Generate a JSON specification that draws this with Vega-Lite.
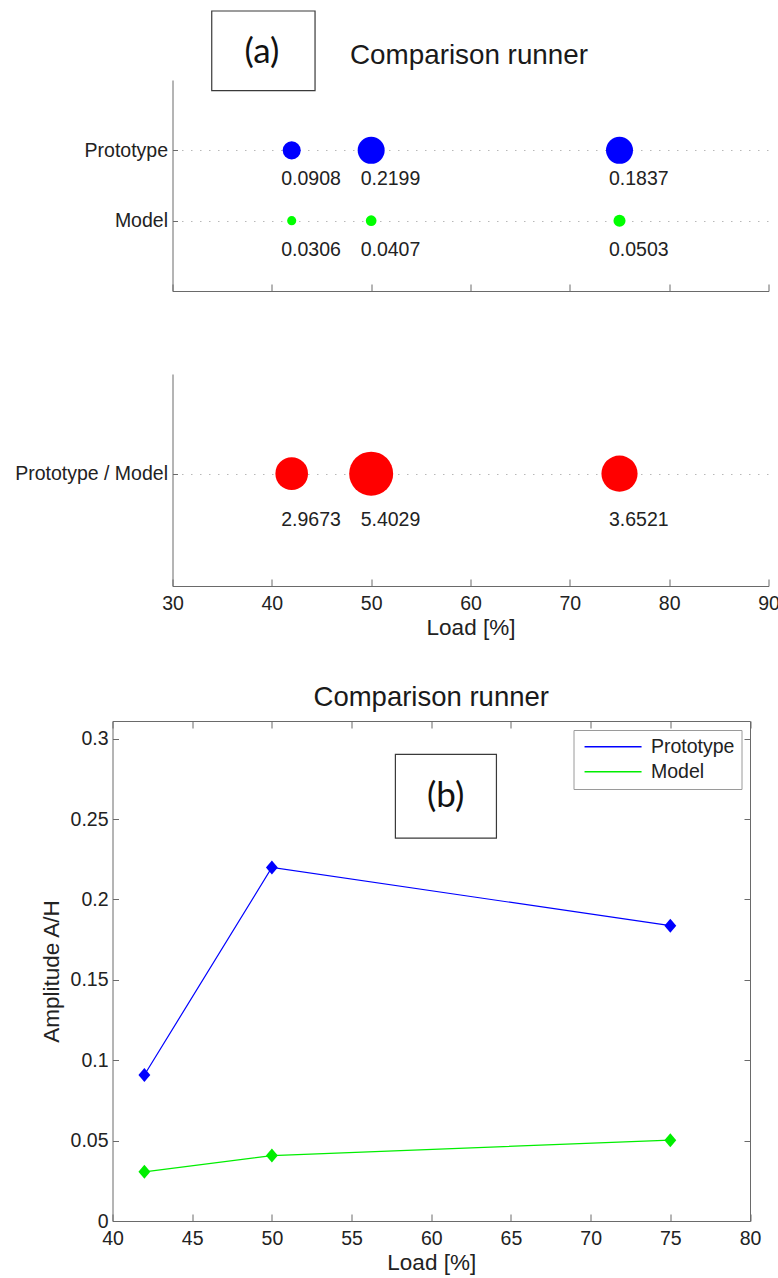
{
  "$schema": "https://vega.github.io/schema/vega-lite/v6.json",
  "background": "white",
  "padding": {"left": 13.5, "top": 10, "right": 0, "bottom": 0},
  "datasets": {
    "amp": [
      {"load": 42, "series": "Prototype", "value": 0.0908},
      {"load": 50, "series": "Prototype", "value": 0.2199},
      {"load": 75, "series": "Prototype", "value": 0.1837},
      {"load": 42, "series": "Model", "value": 0.0306},
      {"load": 50, "series": "Model", "value": 0.0407},
      {"load": 75, "series": "Model", "value": 0.0503}
    ],
    "ratio": [
      {"load": 42, "series": "Prototype / Model", "value": 2.9673},
      {"load": 50, "series": "Prototype / Model", "value": 5.4029},
      {"load": 75, "series": "Prototype / Model", "value": 3.6521}
    ]
  },
  "config": {
    "font": "Liberation Sans",
    "view": {"stroke": null},
    "axis": {
      "domainColor": "#6a6a6a", "tickColor": "#6a6a6a",
      "labelColor": "#222222", "titleColor": "#222222",
      "labelFont": "Liberation Sans", "titleFont": "Liberation Sans",
      "labelFontSize": 19.5, "titleFontSize": 22.5, "titleFontWeight": "normal",
      "grid": false, "labelFlush": false, "domainWidth": 1, "tickWidth": 1
    }
  },
  "resolve": {"scale": {"color": "independent", "size": "independent"}, "legend": {"color": "independent", "size": "independent"}},
  "spacing": 44,
  "vconcat": [
    {
      "spacing": 0,
      "resolve": {"scale": {"color": "independent", "size": "independent"}, "legend": {"color": "independent", "size": "independent"}},
      "hconcat": [
        {
          "width": 1, "height": 1,
          "data": {"values": [{}]},
          "mark": {"type": "point", "opacity": 0, "size": 1}
        },
        {
          "spacing": 82,
          "resolve": {"scale": {"color": "independent", "size": "independent"}, "legend": {"color": "independent", "size": "independent"}},
          "vconcat": [
            {
              "width": 596,
              "height": 211,
              "resolve": {"scale": {"y": "independent"}, "axis": {"x": "independent", "y": "independent"}},
              "layer": [
                {
                  "data": {"name": "amp"},
                  "layer": [
                    {
                      "mark": {"type": "circle", "opacity": 1},
                      "encoding": {
                        "x": {"field": "load", "type": "quantitative",
                          "scale": {"domain": [30, 90], "nice": false, "zero": false},
                          "axis": {"orient": "bottom", "values": [30, 40, 50, 60, 70, 80, 90], "labels": false, "title": null, "tickSize": -7}},
                        "y": {"field": "series", "type": "nominal",
                          "scale": {"type": "point", "domain": ["Prototype", "Model"], "padding": 1},
                          "axis": {"orient": "left", "title": null, "tickSize": -5, "labelPadding": 10, "grid": true, "gridDash": [1.5, 7.5], "gridColor": "#b8b8b8"}},
                        "color": {"field": "series", "type": "nominal",
                          "scale": {"domain": ["Prototype", "Model"], "range": ["#0000ff", "#00ff00"]}, "legend": null},
                        "size": {"field": "value", "type": "quantitative",
                          "scale": {"domain": [0.03, 0.05, 0.09, 0.18, 0.22], "range": [81, 144, 324, 729, 729]}, "legend": null}
                      }
                    },
                    {
                      "mark": {"type": "text", "align": "left", "baseline": "middle", "dx": -10.5, "dy": 29, "fontSize": 19.5, "color": "#222222"},
                      "encoding": {
                        "x": {"field": "load", "type": "quantitative"},
                        "y": {"field": "series", "type": "nominal"},
                        "text": {"field": "value", "type": "quantitative", "format": ".4f"}
                      }
                    }
                  ]
                },
                {
                  "data": {"values": [{"label": "(a)", "x_from": 33.95, "x_to": 44.35, "y_from": 2.848, "y_to": 3.981, "x_mid": 39.0, "y_mid": 3.402}]},
                  "layer": [
                    {
                      "mark": {"type": "rect", "fill": "white", "stroke": "#3a3a3a", "strokeWidth": 1.2, "clip": false},
                      "encoding": {
                        "x": {"field": "x_from", "type": "quantitative", "scale": {"domain": [30, 90], "nice": false, "zero": false}, "axis": null},
                        "x2": {"field": "x_to"},
                        "y": {"field": "y_from", "type": "quantitative", "scale": {"domain": [0, 3], "nice": false}, "axis": null},
                        "y2": {"field": "y_to"}
                      }
                    },
                    {
                      "mark": {"type": "text", "font": "Lato", "fontSize": 35, "color": "#111111", "baseline": "middle", "align": "center", "clip": false},
                      "encoding": {
                        "x": {"field": "x_mid", "type": "quantitative", "axis": null},
                        "y": {"field": "y_mid", "type": "quantitative", "axis": null},
                        "text": {"field": "label"}
                      }
                    }
                  ]
                },
                {
                  "data": {"values": [{"heading": "Comparison runner", "x_mid": 59.85, "y_mid": 3.347}]},
                  "mark": {"type": "text", "fontSize": 27.8, "color": "#1a1a1a", "baseline": "middle", "align": "center", "clip": false},
                  "encoding": {
                    "x": {"field": "x_mid", "type": "quantitative", "scale": {"domain": [30, 90], "nice": false, "zero": false}, "axis": null},
                    "y": {"field": "y_mid", "type": "quantitative", "scale": {"domain": [0, 3], "nice": false}, "axis": null},
                    "text": {"field": "heading"}
                  }
                }
              ]
            },
            {
              "width": 596,
              "height": 212,
              "data": {"name": "ratio"},
              "layer": [
                {
                  "mark": {"type": "circle", "opacity": 1, "color": "#ff0000"},
                  "encoding": {
                    "x": {"field": "load", "type": "quantitative",
                      "scale": {"domain": [30, 90], "nice": false, "zero": false},
                      "axis": {"orient": "bottom", "values": [30, 40, 50, 60, 70, 80, 90], "title": "Load [%]", "tickSize": -7, "labelPadding": 15.3, "titlePadding": 4}},
                    "y": {"field": "series", "type": "nominal",
                      "scale": {"type": "point", "domain": ["Prototype / Model"], "align": 0.47},
                      "axis": {"orient": "left", "title": null, "tickSize": -5, "labelPadding": 10, "grid": true, "gridDash": [1.5, 7.5], "gridColor": "#b8b8b8"}},
                    "size": {"field": "value", "type": "quantitative",
                      "scale": {"domain": [0, 5.4029], "range": [0, 1936], "zero": true}, "legend": null}
                  }
                },
                {
                  "mark": {"type": "text", "align": "left", "baseline": "middle", "dx": -10.5, "dy": 46.7, "fontSize": 19.5, "color": "#222222"},
                  "encoding": {
                    "x": {"field": "load", "type": "quantitative"},
                    "y": {"field": "series", "type": "nominal"},
                    "text": {"field": "value", "type": "quantitative", "format": ".4f"}
                  }
                }
              ]
            }
          ]
        }
      ]
    },
    {
      "spacing": 0,
      "resolve": {"scale": {"color": "independent", "size": "independent"}, "legend": {"color": "independent", "size": "independent"}},
      "hconcat": [
        {
          "width": 25.5, "height": 1,
          "data": {"values": [{}]},
          "mark": {"type": "point", "opacity": 0, "size": 1}
        },
        {
          "width": 637.5,
          "height": 500,
          "title": {"text": "Comparison runner", "fontSize": 27.5, "fontWeight": "normal", "font": "Liberation Sans", "color": "#1a1a1a", "offset": 9, "anchor": "middle"},
          "resolve": {"axis": {"x": "independent", "y": "independent"}},
          "layer": [
            {
              "data": {"name": "amp"},
              "mark": {"type": "line", "strokeWidth": 1.2},
              "encoding": {
                "x": {"field": "load", "type": "quantitative",
                  "scale": {"domain": [40, 80], "nice": false, "zero": false},
                  "axis": {"orient": "bottom", "values": [40, 45, 50, 55, 60, 65, 70, 75, 80], "title": "Load [%]", "tickSize": -7, "labelPadding": 15.2, "titlePadding": 4}},
                "y": {"field": "value", "type": "quantitative",
                  "scale": {"domain": [0, 0.311], "nice": false},
                  "axis": {"orient": "left", "values": [0, 0.05, 0.1, 0.15, 0.2, 0.25, 0.3], "format": "~g", "title": "Amplitude A/H", "tickSize": -6, "labelPadding": 10.5, "titlePadding": 7}},
                "color": {"field": "series", "type": "nominal",
                  "scale": {"domain": ["Prototype", "Model"], "range": ["#0000ff", "#00ee00"]},
                  "legend": {"orient": "top-right", "title": null, "symbolType": "M-1,0L9,0", "symbolSize": 130, "symbolStrokeWidth": 1.5, "symbolOpacity": 0.38, "labelFontSize": 19.5, "labelFont": "Liberation Sans", "labelColor": "#222222", "labelOffset": 51, "padding": 7, "offset": 9, "strokeColor": "#9a9a9a", "fillColor": "white", "rowPadding": 4}}
              }
            },
            {
              "data": {"name": "amp"},
              "mark": {"type": "point", "shape": "M0,-1L0.85,0L0,1L-0.85,0Z", "filled": true, "size": 196, "opacity": 1},
              "encoding": {
                "x": {"field": "load", "type": "quantitative", "axis": null},
                "y": {"field": "value", "type": "quantitative", "axis": null},
                "color": {"field": "series", "type": "nominal"}
              }
            },
            {
              "data": {"name": "amp"},
              "mark": {"type": "point", "opacity": 0},
              "encoding": {
                "x": {"field": "load", "type": "quantitative",
                  "axis": {"orient": "top", "values": [40, 45, 50, 55, 60, 65, 70, 75, 80], "labels": false, "title": null, "tickSize": -7}},
                "y": {"field": "value", "type": "quantitative",
                  "axis": {"orient": "right", "values": [0, 0.05, 0.1, 0.15, 0.2, 0.25, 0.3], "labels": false, "title": null, "tickSize": -6}}
              }
            },
            {
              "data": {"values": [{"label": "(b)", "x_from": 57.75, "x_to": 64.09, "y_from": 0.2382, "y_to": 0.2903, "x_mid": 60.9, "y_mid": 0.2643}]},
              "layer": [
                {
                  "mark": {"type": "rect", "fill": "white", "stroke": "#3a3a3a", "strokeWidth": 1.2},
                  "encoding": {
                    "x": {"field": "x_from", "type": "quantitative", "axis": null},
                    "x2": {"field": "x_to"},
                    "y": {"field": "y_from", "type": "quantitative", "axis": null},
                    "y2": {"field": "y_to"}
                  }
                },
                {
                  "mark": {"type": "text", "font": "Lato", "fontSize": 35, "color": "#111111", "baseline": "middle", "align": "center"},
                  "encoding": {
                    "x": {"field": "x_mid", "type": "quantitative", "axis": null},
                    "y": {"field": "y_mid", "type": "quantitative", "axis": null},
                    "text": {"field": "label"}
                  }
                }
              ]
            }
          ]
        }
      ]
    }
  ]
}
